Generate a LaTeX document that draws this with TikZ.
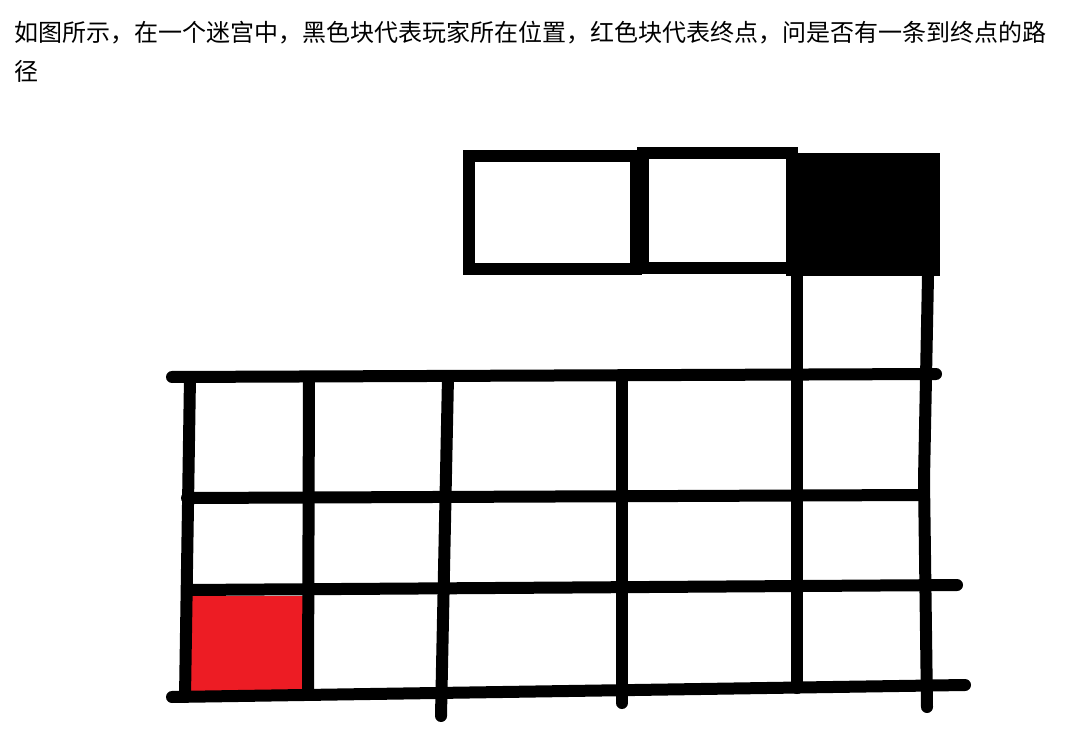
\documentclass[tikz,border=0pt]{standalone}
\usepackage{fontspec}
\newfontfamily\cjk{Noto Sans CJK SC}
\usepackage{tikz}
\definecolor{goalred}{RGB}{237,28,36}
\tikzset{
	wall/.style={line width=9pt, line cap=round, line join=round},
	boxwall/.style={line width=9pt, line join=miter},
	caption/.style={anchor=base west, inner sep=0pt, font=\cjk\fontsize{18}{29}\selectfont}
}

\begin{document}
\begin{tikzpicture}[x=0.75pt, y=-0.75pt]
			\useasboundingbox (0,0) rectangle (1065,731);
			\node[caption] (line1) at (14,42) {如图所示，在一个迷宫中，黑色块代表玩家所在位置，红色块代表终点，问是否有一条到终点的路};
			\node[caption] (line2) at (14,81) {径};
			
			\fill[goalred] (188,596) rectangle (303,691);
			\fill[black] (786,153) rectangle (940,276);
			
			\draw[boxwall] (469,156) rectangle (636,269);
			\draw[boxwall] (643,153) rectangle (792,268);
			
			\draw[wall] (172,377) -- (936,374);
			\draw[wall] (187,498) -- (923,495);
			\draw[wall] (187,590) -- (957,585);
			\draw[wall] (172,697) -- (965,685);
			
			\draw[wall] (190,377) -- (185,697);
			\draw[wall] (309,377) -- (308,692);
			\draw[wall] (448,377) -- (441,716);
			\draw[wall] (622,377) -- (622,703);
			\draw[wall] (797,276) -- (797,688);
			\draw[wall] (928,276) -- (924,480) -- (927,707);
		\end{tikzpicture}
\end{document}
